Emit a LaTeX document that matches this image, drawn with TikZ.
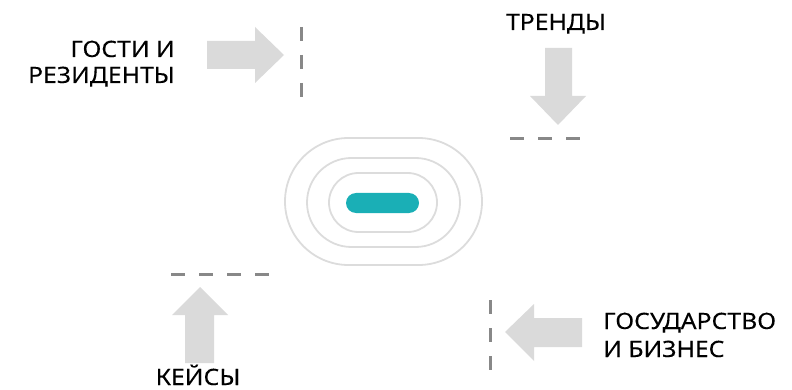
\documentclass[tikz,border=0pt]{standalone}
\usepackage{fontspec}
\setmainfont[FakeStretch=1.1,FakeBold=0.15]{Noto Sans}
\begin{document}
\begin{tikzpicture}[x=1pt,y=-1pt,
  lbl/.style={inner sep=0pt,font=\fontsize{22.5}{27}\selectfont,text=black},
  blockarrow/.style={fill=arrowgray,draw=none},
  dashline/.style={draw=dashgray,line width=3pt,dash pattern=on 14pt off 14pt},
  ring/.style={draw=ringgray,line width=1.8pt}]
\definecolor{arrowgray}{HTML}{DADADA}
\definecolor{dashgray}{HTML}{888888}
\definecolor{ringgray}{HTML}{DCDCDC}
\definecolor{tealc}{HTML}{1AAFB6}
\useasboundingbox (0,0) rectangle (792,390);
% center rings
\draw[ring,rounded corners=63.5pt] (285,138) rectangle (482,265);
\draw[ring,rounded corners=44.5pt] (307,158) rectangle (460,247);
\draw[ring,rounded corners=29.5pt] (329,173) rectangle (437,232);
\fill[tealc,rounded corners=10pt] (346,193) rectangle (419,213);
% top-left
\node[lbl,anchor=base east] (g1) at (175,57) {ГОСТИ И};
\node[lbl,anchor=base east] (g2) at (175,83) {РЕЗИДЕНТЫ};
\fill[blockarrow] (207,41) -- (255,41) -- (255,27) -- (284,55) -- (255,83) -- (255,69) -- (207,69) -- cycle;
\coordinate (d1a) at (301,27); \coordinate (d1b) at (301,97);
\draw[dashline] (d1a) -- (d1b);
% top-right
\node[lbl,anchor=base] (t1) at (556,30) {ТРЕНДЫ};
\fill[blockarrow] (545,48) -- (572,48) -- (572,96) -- (586,96) -- (558,125) -- (530,96) -- (545,96) -- cycle;
\coordinate (d2a) at (510,139); \coordinate (d2b) at (580,139);
\draw[dashline] (d2a) -- (d2b);
% bottom-left
\coordinate (d3a) at (171,274); \coordinate (d3b) at (270,274);
\draw[dashline] (d3a) -- (d3b);
\fill[blockarrow] (185,363) -- (214,363) -- (214,315) -- (228,315) -- (200,287) -- (172,315) -- (185,315) -- cycle;
\node[lbl,anchor=base] (k1) at (198,385) {КЕЙСЫ};
% bottom-right
\coordinate (d4a) at (490,300); \coordinate (d4b) at (490,370);
\draw[dashline] (d4a) -- (d4b);
\fill[blockarrow] (582,318) -- (534,318) -- (534,304) -- (505,332) -- (534,361) -- (534,347) -- (582,347) -- cycle;
\node[lbl,anchor=base west] (b1) at (603,329) {ГОСУДАРСТВО};
\node[lbl,anchor=base west] (b2) at (603,357) {И БИЗНЕС};
\end{tikzpicture}
\end{document}
